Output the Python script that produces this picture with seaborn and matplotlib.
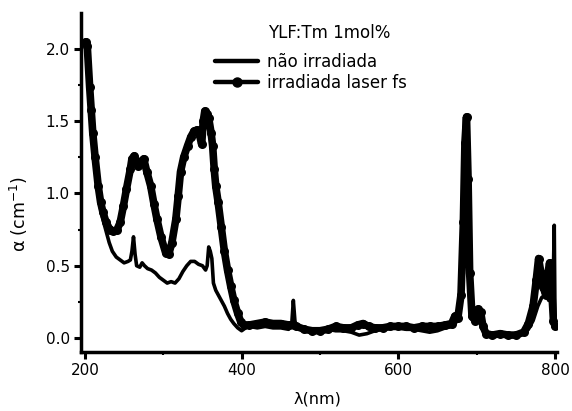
import numpy as np
import pandas as pd
import matplotlib
matplotlib.use("Agg")
import matplotlib.pyplot as plt
import seaborn as sns
from matplotlib.ticker import MultipleLocator
from matplotlib.lines import Line2D

# ---- data ----
wl_nao = [200, 202, 205, 208, 211, 215, 219, 223, 227, 231, 235, 240, 245, 250, 255, 258,
          260, 262, 264, 266, 270, 273, 276, 280, 285, 290, 295, 300, 305, 310, 315, 320,
          325, 330, 335, 340, 345, 350, 354, 356, 358, 360, 362, 364, 367, 370, 374, 378,
          382, 386, 390, 395, 400, 405, 410, 420, 430, 440, 450, 460, 464, 466, 468, 470,
          480, 490, 500, 510, 520, 530, 540, 550, 560, 570, 580, 590, 600, 610, 620, 630,
          640, 650, 660, 670, 675, 678, 681, 684, 686, 688, 690, 692, 695, 698, 702, 705,
          708, 712, 720, 730, 740, 750, 760, 766, 772, 778, 783, 788, 792, 795, 797, 799, 800]
a_nao = [2.03, 2.00, 1.72, 1.50, 1.30, 1.08, 0.92, 0.82, 0.74, 0.66, 0.60, 0.56, 0.54, 0.52, 0.53, 0.54,
         0.60, 0.70, 0.58, 0.50, 0.49, 0.52, 0.50, 0.48, 0.47, 0.45, 0.42, 0.40, 0.38, 0.39, 0.38, 0.41,
         0.46, 0.50, 0.53, 0.53, 0.51, 0.50, 0.47, 0.50, 0.63, 0.60, 0.55, 0.38, 0.33, 0.30, 0.26, 0.22,
         0.17, 0.13, 0.10, 0.07, 0.05, 0.07, 0.08, 0.07, 0.08, 0.07, 0.07, 0.06, 0.10, 0.26, 0.12, 0.07,
         0.06, 0.05, 0.05, 0.06, 0.05, 0.05, 0.04, 0.02, 0.03, 0.05, 0.06, 0.07, 0.07, 0.06, 0.06, 0.05,
         0.04, 0.05, 0.07, 0.08, 0.12, 0.15, 0.40, 1.20, 1.50, 1.20, 0.60, 0.25, 0.12, 0.12, 0.18, 0.15,
         0.06, 0.02, 0.02, 0.02, 0.02, 0.03, 0.03, 0.06, 0.12, 0.22, 0.28, 0.30, 0.26, 0.30, 0.20, 0.78, 0.10]

wl_irr = [201, 203, 206, 208, 210, 213, 217, 220, 223, 227, 232, 236, 241, 245, 249, 253,
          258, 260, 263, 266, 268, 271, 275, 279, 284, 288, 292, 297, 303, 307, 311, 316,
          319, 322, 326, 331, 335, 339, 343, 346, 349, 351, 353, 356, 358, 361, 363, 365,
          367, 370, 374, 378, 382, 386, 390, 395, 399, 403, 410, 420, 430, 440, 450, 460,
          470, 480, 490, 500, 510, 520, 530, 540, 548, 555, 562, 570, 580, 590, 600, 610,
          620, 630, 640, 650, 660, 668, 672, 676, 680, 683, 685, 687, 689, 691, 694, 698,
          702, 705, 708, 712, 720, 730, 740, 750, 760, 766, 772, 776, 779, 782, 785, 788,
          791, 793, 795, 798, 800]
a_irr = [2.05, 2.02, 1.74, 1.58, 1.42, 1.25, 1.05, 0.94, 0.87, 0.80, 0.75, 0.74, 0.75, 0.80, 0.91, 1.03,
         1.17, 1.24, 1.26, 1.21, 1.19, 1.22, 1.24, 1.15, 1.05, 0.93, 0.82, 0.70, 0.59, 0.58, 0.66, 0.82,
         0.98, 1.15, 1.25, 1.33, 1.39, 1.43, 1.44, 1.41, 1.34, 1.50, 1.57, 1.55, 1.52, 1.42, 1.33, 1.17,
         1.05, 0.94, 0.77, 0.60, 0.47, 0.36, 0.26, 0.17, 0.11, 0.09, 0.09, 0.10, 0.11, 0.10, 0.10, 0.09,
         0.08, 0.06, 0.05, 0.05, 0.06, 0.08, 0.07, 0.07, 0.09, 0.10, 0.08, 0.07, 0.07, 0.08, 0.08, 0.08,
         0.07, 0.08, 0.08, 0.08, 0.09, 0.10, 0.15, 0.14, 0.30, 0.80, 1.35, 1.53, 1.10, 0.45, 0.15, 0.12,
         0.20, 0.18, 0.08, 0.03, 0.02, 0.03, 0.02, 0.02, 0.04, 0.10, 0.22, 0.40, 0.55, 0.45, 0.35, 0.30,
         0.45, 0.52, 0.40, 0.12, 0.08]

legend_title = "YLF:Tm 1mol%"
label_nao = "não irradiada"
label_irr = "irradiada laser fs"
x_ticks = [200, 400, 600, 800]
y_ticks = [0.0, 0.5, 1.0, 1.5, 2.0]

df_nao = pd.DataFrame({"wl": wl_nao, "a": a_nao})
df_irr = pd.DataFrame({"wl": wl_irr, "a": a_irr})

sns.set_style("ticks")
plt.rcParams["font.family"] = ["DejaVu Sans"]
plt.rcParams["text.color"] = "black"
plt.rcParams["axes.labelcolor"] = "black"

W, H = 572, 411
fig = plt.figure(figsize=(W / 100, H / 100), dpi=100)
# axes: left 81 px, right 557 px, top 13 px, bottom 352 px
ax = fig.add_axes([81 / W, 1 - 352 / H, (557 - 81) / W, (352 - 13) / H])

sns.lineplot(data=df_nao, x="wl", y="a", ax=ax, color="black", linewidth=2.6,
             estimator=None, sort=False)
sns.lineplot(data=df_irr, x="wl", y="a", ax=ax, color="black", linewidth=5.5,
             marker="o", markersize=6.5, markeredgewidth=0, estimator=None, sort=False)

ax.set_xlim(195, 802.5)
ax.set_ylim(-0.097, 2.249)
ax.set_xticks(x_ticks)
ax.set_yticks(y_ticks)
ax.set_yticklabels([f"{v:.1f}" for v in y_ticks])
ax.xaxis.set_minor_locator(MultipleLocator(100))
ax.yaxis.set_minor_locator(MultipleLocator(0.25))
ax.tick_params(axis="both", which="major", direction="out", length=5, width=2.2,
               labelsize=11, color="black", labelcolor="black", pad=3)
ax.tick_params(axis="both", which="minor", direction="out", length=2.5, width=1.5,
               color="black")

for s in ["top", "right"]:
    ax.spines[s].set_visible(False)
for s in ["left", "bottom"]:
    ax.spines[s].set_linewidth(2.5)
    ax.spines[s].set_color("black")

ax.set_xlabel("λ(nm)", fontsize=11.5, color="black")
ax.xaxis.set_label_coords((317 - 81) / 476, -(399 - 352) / 339)
ax.xaxis.label.set_va("center")
ax.set_ylabel("α (cm$^{-1}$)", fontsize=12.5, color="black")
ax.yaxis.set_label_coords(-(81 - 19) / 476, (352 - 214) / 339)
ax.yaxis.label.set_va("center")

handles = [Line2D([], [], color="black", linewidth=3.2),
           Line2D([], [], color="black", linewidth=3.2, marker="o", markersize=6.5)]
leg = ax.legend(handles, [label_nao, label_irr],
                loc="upper left", bbox_to_anchor=((215 - 81) / 476, (352 - 53) / 339),
                frameon=False, fontsize=12, handlelength=2.6,
                handletextpad=0.5, labelspacing=0.18, borderaxespad=0, borderpad=0)
for t in leg.get_texts():
    t.set_color("black")
ax.text((329 - 81) / 476, (352 - 33) / 339, legend_title, transform=ax.transAxes,
        ha="center", va="center", fontsize=12, color="black")

fig.savefig("out.png", dpi=100)
